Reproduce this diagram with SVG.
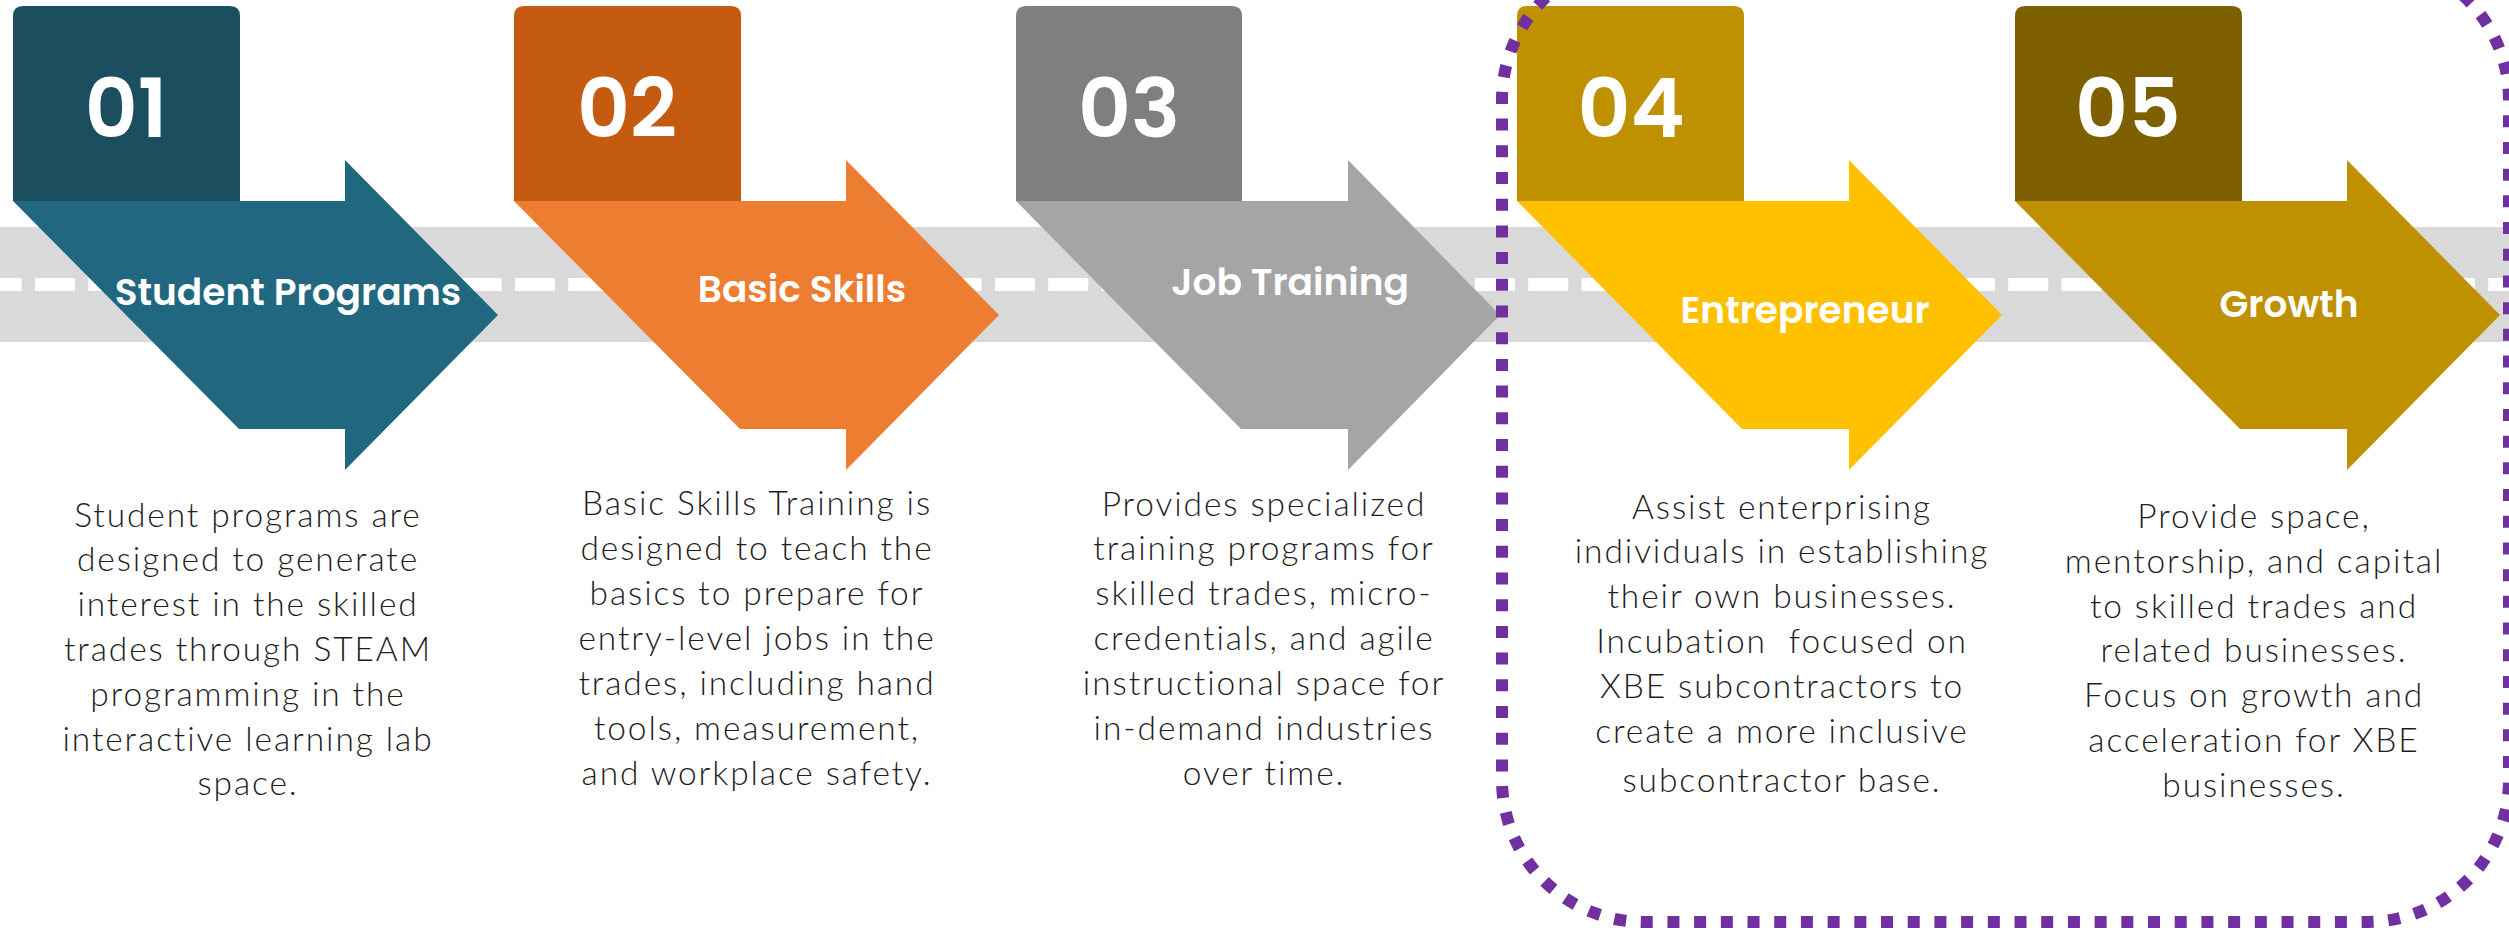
<svg xmlns="http://www.w3.org/2000/svg" width="2509" height="928" viewBox="0 0 2509 928">
<style>
.num{font-family:"Poppins","Inter","Open Sans","Liberation Sans",sans-serif;font-weight:600;font-size:82px;fill:#fff;text-anchor:middle}
.lbl{font-family:"Poppins","Inter","Open Sans","Liberation Sans",sans-serif;font-weight:600;font-size:37.5px;fill:#fff;text-anchor:middle}
.desc{font-family:"Lato","Liberation Sans",sans-serif;font-weight:300;font-size:33.5px;letter-spacing:1.9px;fill:#1e1e1e;text-anchor:middle}
</style>
<rect width="2509" height="928" fill="#fff"/>
<g id="connectors">
  <rect x="0" y="227" width="2509" height="115" fill="#d9d9d9"/>
  <line x1="-18.33" y1="284.5" x2="2509" y2="284.5" stroke="#fff" stroke-width="13" stroke-dasharray="40 13.33"/>
</g>
<g id="node-01">
  <path d="M13,201 V16 Q13,6 23,6 H230 Q240,6 240,16 V201 Z" fill="#1b4e5f"/>
  <path d="M13,201 H345 V160 L498,315 L345,470 V429 H239 Z" fill="#21677f"/>
  <text class="num" x="126" y="137">01</text>
  <text class="lbl" x="288" y="305">Student Programs</text>
  <text class="desc" x="248"><tspan x="248" y="527">Student programs are</tspan><tspan x="248" y="571">designed to generate</tspan><tspan x="248" y="616">interest in the skilled</tspan><tspan x="248" y="661">trades through STEAM</tspan><tspan x="248" y="706">programming in the</tspan><tspan x="248" y="751">interactive learning lab</tspan><tspan x="248" y="795">space.</tspan></text>
</g>
<g id="node-02">
  <path d="M514,201 V16 Q514,6 524,6 H731 Q741,6 741,16 V201 Z" fill="#c55a11"/>
  <path d="M514,201 H846 V160 L999,315 L846,470 V429 H740 Z" fill="#ed7d31"/>
  <text class="num" x="627" y="137">02</text>
  <text class="lbl" x="802" y="302">Basic Skills</text>
  <text class="desc" x="757"><tspan x="757" y="515">Basic Skills Training is</tspan><tspan x="757" y="560">designed to teach the</tspan><tspan x="757" y="605">basics to prepare for</tspan><tspan x="757" y="650">entry-level jobs in the</tspan><tspan x="757" y="695">trades, including hand</tspan><tspan x="757" y="740">tools, measurement,</tspan><tspan x="757" y="785">and workplace safety.</tspan></text>
</g>
<g id="node-03">
  <path d="M1016,201 V16 Q1016,6 1026,6 H1232 Q1242,6 1242,16 V201 Z" fill="#7f7f7f"/>
  <path d="M1016,201 H1348 V160 L1500,315 L1348,470 V429 H1241 Z" fill="#a5a5a5"/>
  <text class="num" x="1129" y="137">03</text>
  <text class="lbl" x="1290" y="295">Job Training</text>
  <text class="desc" x="1264"><tspan x="1264" y="516">Provides specialized</tspan><tspan x="1264" y="560">training programs for</tspan><tspan x="1264" y="605">skilled trades, micro-</tspan><tspan x="1264" y="650">credentials, and agile</tspan><tspan x="1264" y="695">instructional space for</tspan><tspan x="1264" y="740">in-demand industries</tspan><tspan x="1264" y="785">over time.</tspan></text>
</g>
<g id="node-04">
  <path d="M1517,201 V16 Q1517,6 1527,6 H1734 Q1744,6 1744,16 V201 Z" fill="#bf9000"/>
  <path d="M1517,201 H1849 V160 L2002,315 L1849,470 V429 H1742 Z" fill="#ffc000"/>
  <text class="num" x="1631" y="137">04</text>
  <text class="lbl" x="1805" y="323">Entrepreneur</text>
  <text class="desc" x="1782"><tspan x="1782" y="519">Assist enterprising</tspan><tspan x="1782" y="563">individuals in establishing</tspan><tspan x="1782" y="608">their own businesses.</tspan><tspan x="1782" y="653" xml:space="preserve">Incubation  focused on</tspan><tspan x="1782" y="698">XBE subcontractors to</tspan><tspan x="1782" y="743">create a more inclusive</tspan><tspan x="1782" y="792">subcontractor base.</tspan></text>
</g>
<g id="node-05">
  <path d="M2015,201 V16 Q2015,6 2025,6 H2232 Q2242,6 2242,16 V201 Z" fill="#7f6000"/>
  <path d="M2015,201 H2347 V160 L2500,315 L2347,470 V429 H2240 Z" fill="#bf9000"/>
  <text class="num" x="2128" y="137">05</text>
  <text class="lbl" x="2289" y="317">Growth</text>
  <text class="desc" x="2254"><tspan x="2254" y="528">Provide space,</tspan><tspan x="2254" y="573">mentorship, and capital</tspan><tspan x="2254" y="618">to skilled trades and</tspan><tspan x="2254" y="662">related businesses.</tspan><tspan x="2254" y="707">Focus on growth and</tspan><tspan x="2254" y="752">acceleration for XBE</tspan><tspan x="2254" y="797">businesses.</tspan></text>
</g>
<g id="highlight">
  <rect x="1502" y="-42" width="1007" height="964" rx="142" ry="142" fill="none" stroke="#7030a0" stroke-width="12" stroke-dasharray="12 14.7"/>
</g>
</svg>
